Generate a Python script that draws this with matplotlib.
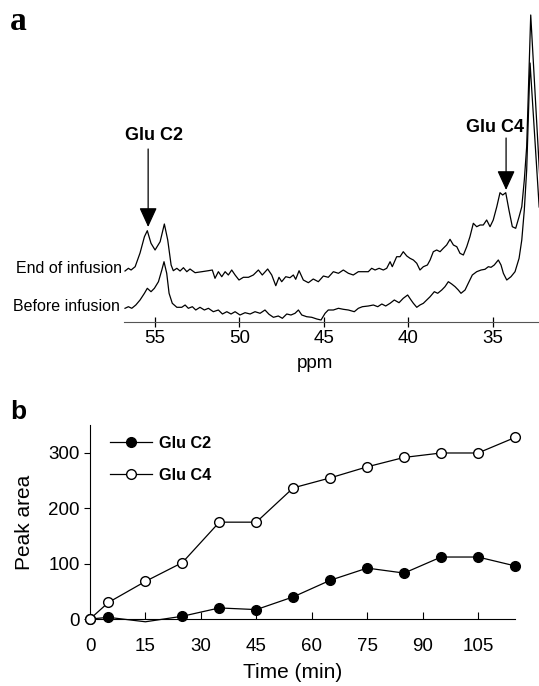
import numpy as np
import matplotlib
matplotlib.use("Agg")
import matplotlib.pyplot as plt

plt.rcParams['font.family'] = ['Liberation Sans', 'DejaVu Sans']

# --- panel a: 13C spectra (ppm, intensity in arbitrary units) ---
ppm_end = [56.78, 56.58, 56.42, 56.18, 55.89, 55.63, 55.46, 55.24, 55.00, 54.70,
           54.45, 54.25, 54.05, 53.92, 53.71, 53.52, 53.32, 53.12, 52.93, 52.63,
           52.23, 51.84, 51.61, 51.45, 51.25, 51.05, 50.85, 50.66, 50.46, 50.26,
           50.03, 49.77, 49.47, 49.18, 48.88, 48.65, 48.33, 48.09, 47.85, 47.66,
           47.50, 47.26, 47.01, 46.81, 46.67, 46.47, 46.22, 45.92, 45.63, 45.33,
           45.03, 44.74, 44.44, 44.14, 43.85, 43.55, 43.26, 42.96, 42.66, 42.37,
           42.17, 41.97, 41.73, 41.48, 41.28, 41.08, 40.95, 40.69, 40.49, 40.30,
           40.09, 39.90, 39.70, 39.50, 39.31, 39.11, 38.87, 38.71, 38.52, 38.32,
           38.12, 37.93, 37.73, 37.53, 37.33, 37.13, 36.94, 36.74, 36.54, 36.35,
           36.15, 35.95, 35.75, 35.56, 35.36, 35.16, 34.97, 34.76, 34.57, 34.41,
           34.23, 34.04, 33.84, 33.64, 33.44, 33.28, 33.13, 32.99, 32.75, 32.20]
int_end = [51, 53.7, 52, 55.3, 69, 85.3, 91.3, 78.7, 72, 80.3,
           98, 82, 57, 51.3, 53.7, 51, 54.3, 50.3, 53, 49.3,
           50.3, 51.3, 52, 43.7, 50.3, 45.3, 50.3, 47, 52, 47,
           42, 44.7, 44.7, 47, 52, 47, 53, 47, 36.3, 44.7,
           40.3, 45.3, 44.3, 47, 42.7, 51.3, 42, 39.3, 43, 40.3,
           46, 44.7, 50.3, 48.7, 52, 48.7, 47, 50.3, 50.3, 50.3,
           53.7, 52, 53.7, 52, 53.7, 60.3, 55.3, 65.3, 65.3, 70.3,
           66, 63.7, 62, 58.7, 52, 55.3, 57, 62, 70.3, 72,
           70.3, 73.7, 77, 82.7, 77, 75.3, 68.7, 67, 75.3, 85.3,
           98.7, 95.3, 97, 97, 102, 95.3, 102, 115.3, 129.3, 127,
           129.3, 112, 95.3, 93.7, 105.3, 115.3, 142, 175.3, 307, 140]

ppm_before = [56.78, 56.58, 56.38, 56.14, 55.89, 55.63, 55.46, 55.24, 55.04, 54.80,
              54.60, 54.47, 54.31, 54.17, 53.98, 53.71, 53.42, 53.22, 53.03, 52.79,
              52.59, 52.34, 52.08, 51.84, 51.55, 51.25, 51.01, 50.75, 50.50, 50.26,
              49.97, 49.67, 49.37, 49.08, 48.78, 48.49, 48.25, 47.99, 47.70, 47.46,
              47.20, 46.95, 46.71, 46.51, 46.31, 46.02, 45.72, 45.42, 45.17, 44.93,
              44.74, 44.44, 44.14, 43.85, 43.55, 43.20, 42.96, 42.72, 42.37, 42.07,
              41.81, 41.57, 41.34, 41.08, 40.83, 40.55, 40.30, 40.04, 39.84, 39.70,
              39.50, 39.31, 39.11, 38.91, 38.71, 38.46, 38.26, 38.02, 37.83, 37.63,
              37.43, 37.23, 37.04, 36.88, 36.64, 36.45, 36.21, 35.95, 35.69, 35.46,
              35.26, 35.10, 34.91, 34.67, 34.51, 34.37, 34.17, 33.92, 33.68, 33.44,
              33.28, 33.13, 32.99, 32.79, 32.25]
int_before = [13.7, 15.3, 13.7, 17, 22, 28.7, 33.7, 30.3, 33.7, 40.3,
              52, 60.3, 48.7, 28.7, 18.7, 14.7, 14.7, 17, 13.7, 15.3,
              12, 14.7, 12, 13.7, 10.3, 12, 8, 10.3, 8, 10.3,
              7, 9.3, 8, 10.3, 8.7, 12, 7.7, 4.7, 6, 3.7,
              8, 7, 8.7, 12, 7, 5.3, 4.7, 3, 2, 8.7,
              12, 12, 13.7, 12.7, 12, 10.3, 13.7, 15.3, 16, 17,
              15.3, 18, 16, 18.7, 22, 19.3, 23.7, 27, 22, 18.7,
              14.7, 17, 18.7, 22, 25.3, 30.3, 28.7, 32, 35.3, 40.3,
              38, 35.3, 32, 28.7, 32, 38.7, 47, 50.3, 52, 52.7,
              55.3, 54.7, 57, 62, 57, 48.7, 42, 45.3, 50.3, 63.7,
              82, 112, 152, 259, 115]

ppm_ticks = [55, 50, 45, 40, 35]

# --- panel b: peak areas ---
time_min = [0, 5, 15, 25, 35, 45, 55, 65, 75, 85, 95, 105, 115]
glu_c2 = [0, 3, -5, 5, 20, 17, 40, 70, 92, 83, 112, 112, 96]
glu_c4 = [0, 30, 68, 102, 175, 175, 237, 255, 275, 292, 300, 300, 328]
time_ticks = [0, 15, 30, 45, 60, 75, 90, 105]
area_ticks = [0, 100, 200, 300]

W, H = 539, 686
fig = plt.figure(figsize=(W / 100, H / 100), dpi=100)

# ---------------- panel a ----------------
axa = fig.add_axes([124 / W, 1 - 322 / H, 1 - 124 / W, 322 / H])
axa.plot(ppm_end, int_end, color='black', lw=0.9)
axa.plot(ppm_before, int_before, color='black', lw=0.9)
axa.set_xlim(56.84, 32.26)
axa.set_ylim(0, 322)
for s in ['left', 'right', 'top']:
    axa.spines[s].set_visible(False)
axa.spines['bottom'].set_color('#555555')
axa.set_yticks([])
axa.set_xticks(ppm_ticks)
axa.set_xticklabels([str(t) for t in ppm_ticks], fontsize=13.5)
axa.tick_params(axis='x', direction='inout', length=7, width=0.9, pad=2)
fig.text(315 / W, 1 - 363 / H, 'ppm', ha='center', va='center', fontsize=13.5)

axa.text(56.95, 54, 'End of infusion', ha='right', va='center', fontsize=11.5)
axa.text(57.07, 16, 'Before infusion', ha='right', va='center', fontsize=11.5)

arrow_kw = dict(arrowstyle='-|>,head_length=1.2,head_width=0.55',
                color='black', lw=0.9, mutation_scale=10, shrinkA=0, shrinkB=0)
axa.annotate('', xy=(55.41, 95), xytext=(55.41, 173), arrowprops=arrow_kw)
axa.text(55.06, 186, 'Glu C2', ha='center', va='center', fontsize=13, fontweight='bold')
axa.annotate('', xy=(34.21, 132), xytext=(34.21, 184), arrowprops=arrow_kw)
axa.text(34.87, 194, 'Glu C4', ha='center', va='center', fontsize=13, fontweight='bold')

fig.text(10 / W, 1 - 22 / H, 'a', fontsize=24, fontweight='bold',
         family='Liberation Serif', ha='left', va='center')

# ---------------- panel b ----------------
axb = fig.add_axes([90 / W, 0.0912, (515 - 90) / W, 0.380 - 0.0912])
markers_c2 = [i for i in range(len(time_min)) if time_min[i] != 15]
axb.plot(time_min, glu_c2, '-o', color='black', lw=0.9, ms=7,
         mfc='black', mec='black', markevery=markers_c2, clip_on=False,
         label='Glu C2', zorder=3)
axb.plot(time_min, glu_c4, '-o', color='black', lw=0.9, ms=7,
         mfc='white', mec='black', clip_on=False, label='Glu C4', zorder=4)
axb.set_xlim(0, 115)
axb.set_ylim(-8, 350)
axb.spines['top'].set_visible(False)
axb.spines['right'].set_visible(False)
axb.spines['bottom'].set_position(('data', 0))
axb.set_xticks(time_ticks)
axb.set_yticks(area_ticks)
axb.tick_params(axis='x', direction='in', length=5, labelsize=13.5, pad=14)
axb.tick_params(axis='y', direction='out', length=4, labelsize=13.5)
fig.text(25 / W, 1 - 522 / H, 'Peak area', rotation=90, ha='center', va='center', fontsize=15)
fig.text(293 / W, 1 - 673 / H, 'Time (min)', ha='center', va='center', fontsize=15)

leg = axb.legend(loc='upper left', bbox_to_anchor=(0.013, 1.02), frameon=False,
                 prop={'weight': 'bold', 'size': 11.7}, handlelength=2.6,
                 labelspacing=1.05, handletextpad=0.4)

fig.text(10 / W, 1 - 412 / H, 'b', fontsize=19, fontweight='bold', ha='left', va='center')

fig.savefig('out.png', dpi=100)
